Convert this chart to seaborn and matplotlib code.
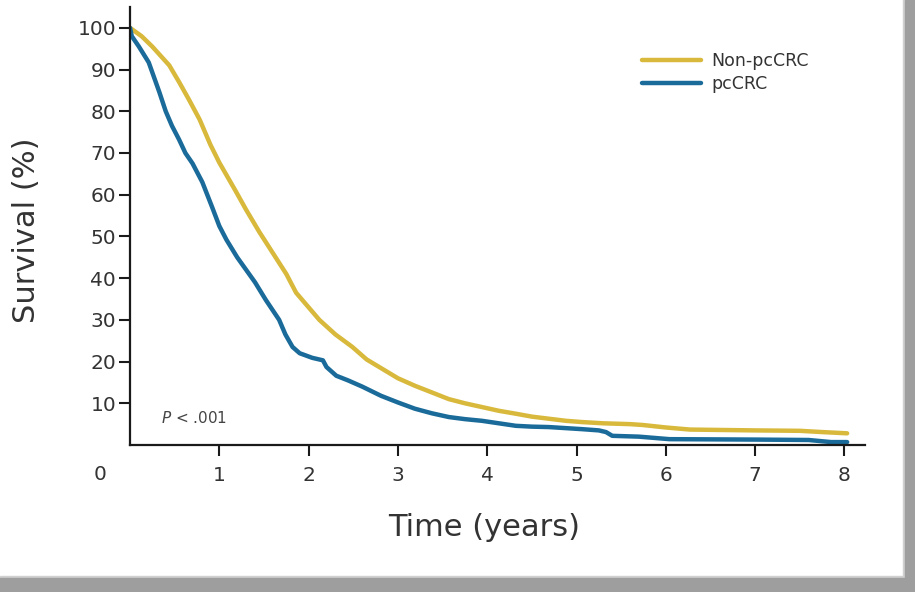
import matplotlib
matplotlib.use("Agg")
import matplotlib.pyplot as plt
import seaborn as sns
import pandas as pd
from matplotlib.patches import Rectangle
from matplotlib.lines import Line2D

# ---- data ----
series_names = ["Non-pcCRC", "pcCRC"]
colors = ["#d8b93c", "#1a6b9a"]

non_t = [0, 0.13, 0.25, 0.44, 0.55, 0.66, 0.78, 0.9, 1.0, 1.18, 1.3, 1.45, 1.6,
         1.75, 1.86, 2.0, 2.12, 2.3, 2.49, 2.65, 2.79, 3.0, 3.19, 3.38, 3.57,
         3.75, 3.94, 4.13, 4.32, 4.5, 4.69, 4.88, 5.06, 5.3, 5.6, 5.74, 6.0,
         6.27, 7.0, 7.5, 7.75, 8.03]
non_v = [100, 98, 95.5, 91, 87, 82.8, 78, 72, 67.7, 61, 56.4, 51, 46,
         41, 36.5, 33, 30, 26.5, 23.5, 20.5, 18.7, 16, 14.2, 12.6, 11,
         10, 9.1, 8.2, 7.5, 6.8, 6.3, 5.8, 5.5, 5.2, 5.0, 4.8, 4.2,
         3.7, 3.5, 3.4, 3.1, 2.8]

pc_t = [0, 0.02, 0.1, 0.21, 0.33, 0.4, 0.47, 0.55, 0.62, 0.7, 0.81, 0.92, 1.0,
        1.08, 1.2, 1.3, 1.4, 1.52, 1.67, 1.74, 1.82, 1.9, 2.04, 2.16, 2.2,
        2.31, 2.44, 2.6, 2.81, 3.0, 3.19, 3.38, 3.57, 3.75, 3.94, 4.13, 4.32,
        4.5, 4.69, 5.06, 5.25, 5.33, 5.4, 5.7, 6.04, 7.0, 7.6, 7.85, 8.03]
pc_v = [100, 98, 95.5, 91.7, 84.5, 80, 76.5, 73.2, 70, 67.5, 63, 57, 52.5,
        49.2, 45, 42, 39, 34.8, 30, 26.5, 23.5, 22, 20.9, 20.3, 18.7,
        16.6, 15.5, 14, 11.8, 10.2, 8.7, 7.6, 6.7, 6.2, 5.8, 5.2, 4.6,
        4.4, 4.3, 3.8, 3.5, 3.1, 2.2, 2.0, 1.4, 1.3, 1.2, 0.7, 0.7]

x_ticks = [1, 2, 3, 4, 5, 6, 7, 8]
y_ticks = [10, 20, 30, 40, 50, 60, 70, 80, 90, 100]

df = pd.concat([
    pd.DataFrame({"Time": non_t, "Survival": non_v, "Group": series_names[0]}),
    pd.DataFrame({"Time": pc_t, "Survival": pc_v, "Group": series_names[1]}),
])

sns.set_style("ticks")
plt.rcParams["font.family"] = ["DejaVu Sans"]

W, H = 915, 592
fig = plt.figure(figsize=(W / 100, H / 100), dpi=100)
ax = fig.add_axes([130 / W, 1 - 445 / H, (865 - 130) / W, (445 - 7) / H])

sns.lineplot(data=df, x="Time", y="Survival", hue="Group",
             palette=dict(zip(series_names, colors)), estimator=None,
             linewidth=3.2, ax=ax, legend=False)

ax.set_xlim(0, 8.23)
ax.set_ylim(0, 105)
ax.set_xticks(x_ticks)
ax.set_xticklabels([str(v) for v in x_ticks])
ax.set_yticks(y_ticks)
ax.set_yticklabels([str(v) for v in y_ticks])
for s in ["top", "right"]:
    ax.spines[s].set_visible(False)
for s in ["left", "bottom"]:
    ax.spines[s].set_linewidth(1.6)
    ax.spines[s].set_color("#1a1a1a")
ax.tick_params(axis="y", length=8, width=1.5, pad=2, labelsize=14.5,
               colors="#1a1a1a", labelcolor="#333333")
ax.tick_params(axis="x", length=8, width=1.5, pad=7, labelsize=14.5,
               colors="#1a1a1a", labelcolor="#333333")

ax.set_xlabel("")
ax.set_ylabel("")
fig.text(484 / W, 1 - 527 / H, "Time (years)", ha="center", va="center",
         fontsize=22, color="#333333")
fig.text(27 / W, 1 - 230 / H, "Survival (%)", ha="center", va="center",
         rotation=90, fontsize=22, color="#333333")
fig.text(100 / W, 1 - 475 / H, "0", ha="center", va="center",
         fontsize=14.5, color="#333333")

ax.text(0.35, 6.5, "$P$ < .001", fontsize=11, color="#444444",
        ha="left", va="center")

handles = [Line2D([0], [0], color=c, lw=3.2) for c in colors]
fig.legend(handles, series_names, loc="upper left",
           bbox_to_anchor=(626 / W, 1 - 36 / H), frameon=False,
           fontsize=12.5, handlelength=3.4, handletextpad=0.6,
           labelspacing=0.3, labelcolor="#333333")

# grey frame on right and bottom edges
fig.patches.append(Rectangle((905 / W, 0), 10 / W, 1, transform=fig.transFigure,
                             color="#9e9e9e", zorder=10))
fig.patches.append(Rectangle((0, 0), 1, 14 / H, transform=fig.transFigure,
                             color="#9e9e9e", zorder=10))
fig.patches.append(Rectangle((903 / W, 14 / H), 2 / W, 1, transform=fig.transFigure,
                             color="#d0d0d0", zorder=9))
fig.patches.append(Rectangle((0, 14 / H), 905 / W, 2 / H, transform=fig.transFigure,
                             color="#d0d0d0", zorder=9))

fig.savefig("out.png", dpi=100)
